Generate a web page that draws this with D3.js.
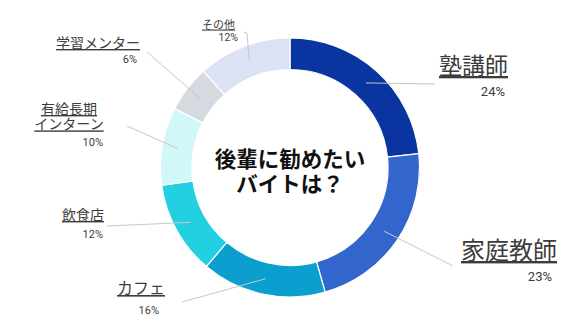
<!DOCTYPE html>
<html>
<head>
  <meta charset="utf-8">
  <script src="https://d3js.org/d3.v7.min.js"></script>
  <style type="text/css">
    body { margin: 0; background: #fff; }
    svg { font-family: "Noto Sans CJK JP", "Noto Sans", sans-serif; }
    .pct { font-family: Roboto, "Noto Sans", sans-serif; }
  </style>
</head>
<body>
  <div id="chart"></div>
  <script type="text/javascript">
    // data (percent labels as shown)
    var categories = ["塾講師", "家庭教師", "カフェ", "飲食店", "有給長期インターン", "学習メンター", "その他"];
    var values = [24, 23, 16, 12, 10, 6, 12];
    var colors = ["#0a35a0", "#3366cc", "#0a9fcf", "#22d0e2", "#d2f7f9", "#d5d9e0", "#dae2f3"];
    // label lines (name may wrap) and centre title
    var labelLines = [["塾講師"], ["家庭教師"], ["カフェ"], ["飲食店"], ["有給長期", "インターン"], ["学習メンター"], ["その他"]];
    var titleLines = ["後輩に勧めたい", "バイトは？"];

    var width = 581, height = 327;
    var cx = 290, cy = 167.5, outerR = 129.5, innerR = 98;

    // label layout: right edge of name, baseline of first line, font size, leader end point
    var labelLayout = [
      { x: 508, y: 74, size: 23, px: 505, py: 96, psize: 13, lx: 435, ly: 84 },
      { x: 557, y: 259, size: 24, px: 552, py: 281, psize: 13, lx: 453, ly: 266 },
      { x: 165, y: 294, size: 16, px: 159, py: 314, psize: 11, lx: 182, ly: 302 },
      { x: 104, y: 220, size: 14, px: 103, py: 238, psize: 11, lx: 107, ly: 226 },
      { x: 102, y: 114, size: 14, px: 103, py: 146, psize: 11, lx: 127, ly: 126, center: true },
      { x: 140, y: 48, size: 14, px: 137, py: 63, psize: 11, lx: 147, ly: 52 },
      { x: 235, y: 28.5, size: 11, px: 238, py: 41, psize: 10.5, lx: 247, ly: 33, hook: true }
    ];

    var svg = d3.select("#chart").append("svg")
      .attr("width", width)
      .attr("height", height);

    var pie = d3.pie().sort(null).value(function (d) { return d; });
    var arc = d3.arc().innerRadius(innerR).outerRadius(outerR);
    var arcs = pie(values);

    var g = svg.append("g").attr("transform", "translate(" + cx + "," + cy + ")");

    g.selectAll("path.slice")
      .data(arcs)
      .enter().append("path")
      .attr("class", "slice")
      .attr("d", arc)
      .attr("fill", function (d, i) { return colors[i]; })
      .attr("stroke", "#fff")
      .attr("stroke-width", 1.2);

    // leader lines from slice centroid
    svg.selectAll("path.leader")
      .data(arcs)
      .enter().append("path")
      .attr("class", "leader")
      .attr("fill", "none")
      .attr("stroke", "#c8c8c8")
      .attr("stroke-width", 1)
      .attr("d", function (d, i) {
        var c = arc.centroid(d), L = labelLayout[i];
        var p = "M" + (cx + c[0]) + "," + (cy + c[1]) + "L" + L.lx + "," + L.ly;
        if (L.hook) p += "L" + (L.lx - 3) + "," + (L.ly - 1);
        return p;
      });

    // category labels
    categories.forEach(function (name, i) {
      var L = labelLayout[i];
      var lines = labelLines[i];
      var lineH = L.size * 1.1;
      var t = svg.append("text")
        .attr("font-size", L.size)
        .attr("fill", "#3c3c3c")
        .attr("text-decoration", "underline");
      lines.forEach(function (ln, k) {
        var tx = L.center ? L.x - 33 : L.x;
        t.append("tspan")
          .attr("x", tx)
          .attr("y", L.y + k * lineH)
          .attr("text-anchor", L.center ? "middle" : "end")
          .text(ln);
      });
      svg.append("text")
        .attr("class", "pct")
        .attr("x", L.px)
        .attr("y", L.py)
        .attr("text-anchor", "end")
        .attr("font-size", L.psize)
        .attr("fill", "#3c3c3c")
        .text(values[i] + "%");
    });

    // centre title
    svg.append("text")
      .attr("text-anchor", "middle")
      .attr("font-size", 21.5)
      .attr("font-weight", "bold")
      .attr("fill", "#111")
      .selectAll("tspan")
      .data(titleLines)
      .enter().append("tspan")
      .attr("x", cx)
      .attr("y", function (d, i) { return 167 + i * 25; })
      .text(function (d) { return d; });
  </script>
</body>
</html>
